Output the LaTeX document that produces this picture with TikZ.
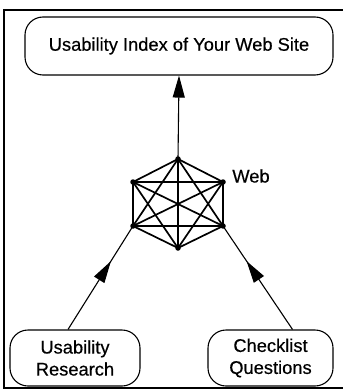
\documentclass[tikz,border=0pt]{standalone}
\usepackage{fontspec}
\setmainfont{Liberation Sans}
\newfontfamily\scanfont{Liberation Sans}[FakeBold=0.4]
\usetikzlibrary{arrows.meta,decorations.markings,calc}

\tikzset{
  label text/.style={font=\scanfont\fontsize{18.3}{22}\selectfont},
  roundbox/.style={draw, line width=1.1pt, rounded corners=18pt, align=center,
    label text, inner sep=0pt},
  edge/.style={line width=1.7pt},
  vdot/.style={circle, fill=black, inner sep=0pt, minimum size=5.5pt},
  conn/.style={line width=1.1pt},
  head/.style={-{Triangle[length=22pt,width=12pt]}},
  midhead/.style={postaction={decorate, decoration={markings,
    mark=at position #1 with {\arrow{Triangle[length=22pt,width=12pt]}}}}}
}

\begin{document}
\begin{tikzpicture}[x=1pt,y=-1pt]
\useasboundingbox (0,0) rectangle (342,390);

% outer frame
\draw[line width=1.2pt] (343,10) -- (4,10) -- (4,388) -- (343,388);

% boxes
\node[roundbox, minimum width=308pt, minimum height=58pt] (top) at (179,46)
  {Usability Index of Your Web Site};
\node[roundbox, minimum width=130pt, minimum height=56pt] (res) at (75,358)
  {Usability\\Research};
\node[roundbox, minimum width=125pt, minimum height=56pt] (chk) at (270.5,358)
  {Checklist\\Questions};

% web vertices
\coordinate (h1) at (178,159);
\coordinate (h2) at (223,182);
\coordinate (h3) at (223,226);
\coordinate (h4) at (178,248);
\coordinate (h5) at (133,226);
\coordinate (h6) at (133,182);

% fully connected web
\foreach \i in {1,...,6}{
  \foreach \j in {1,...,6}{
    \ifnum\i<\j \draw[edge] (h\i) -- (h\j); \fi
  }
}
\foreach \i in {1,...,6} \node[vdot] (v\i) at (h\i) {};

\node[label text] (web) at (251,176) {Web};

% connectors
\draw[conn, head] (h1) -- (top.south);
\coordinate (rs) at ($(res.north)+(-7,0)$);
\coordinate (cs) at ($(chk.north)+(22,0)$);
\draw[conn, midhead=0.66] (rs) -- (h5);
\draw[conn, midhead=0.66] (cs) -- (h3);
\end{tikzpicture}
\end{document}
